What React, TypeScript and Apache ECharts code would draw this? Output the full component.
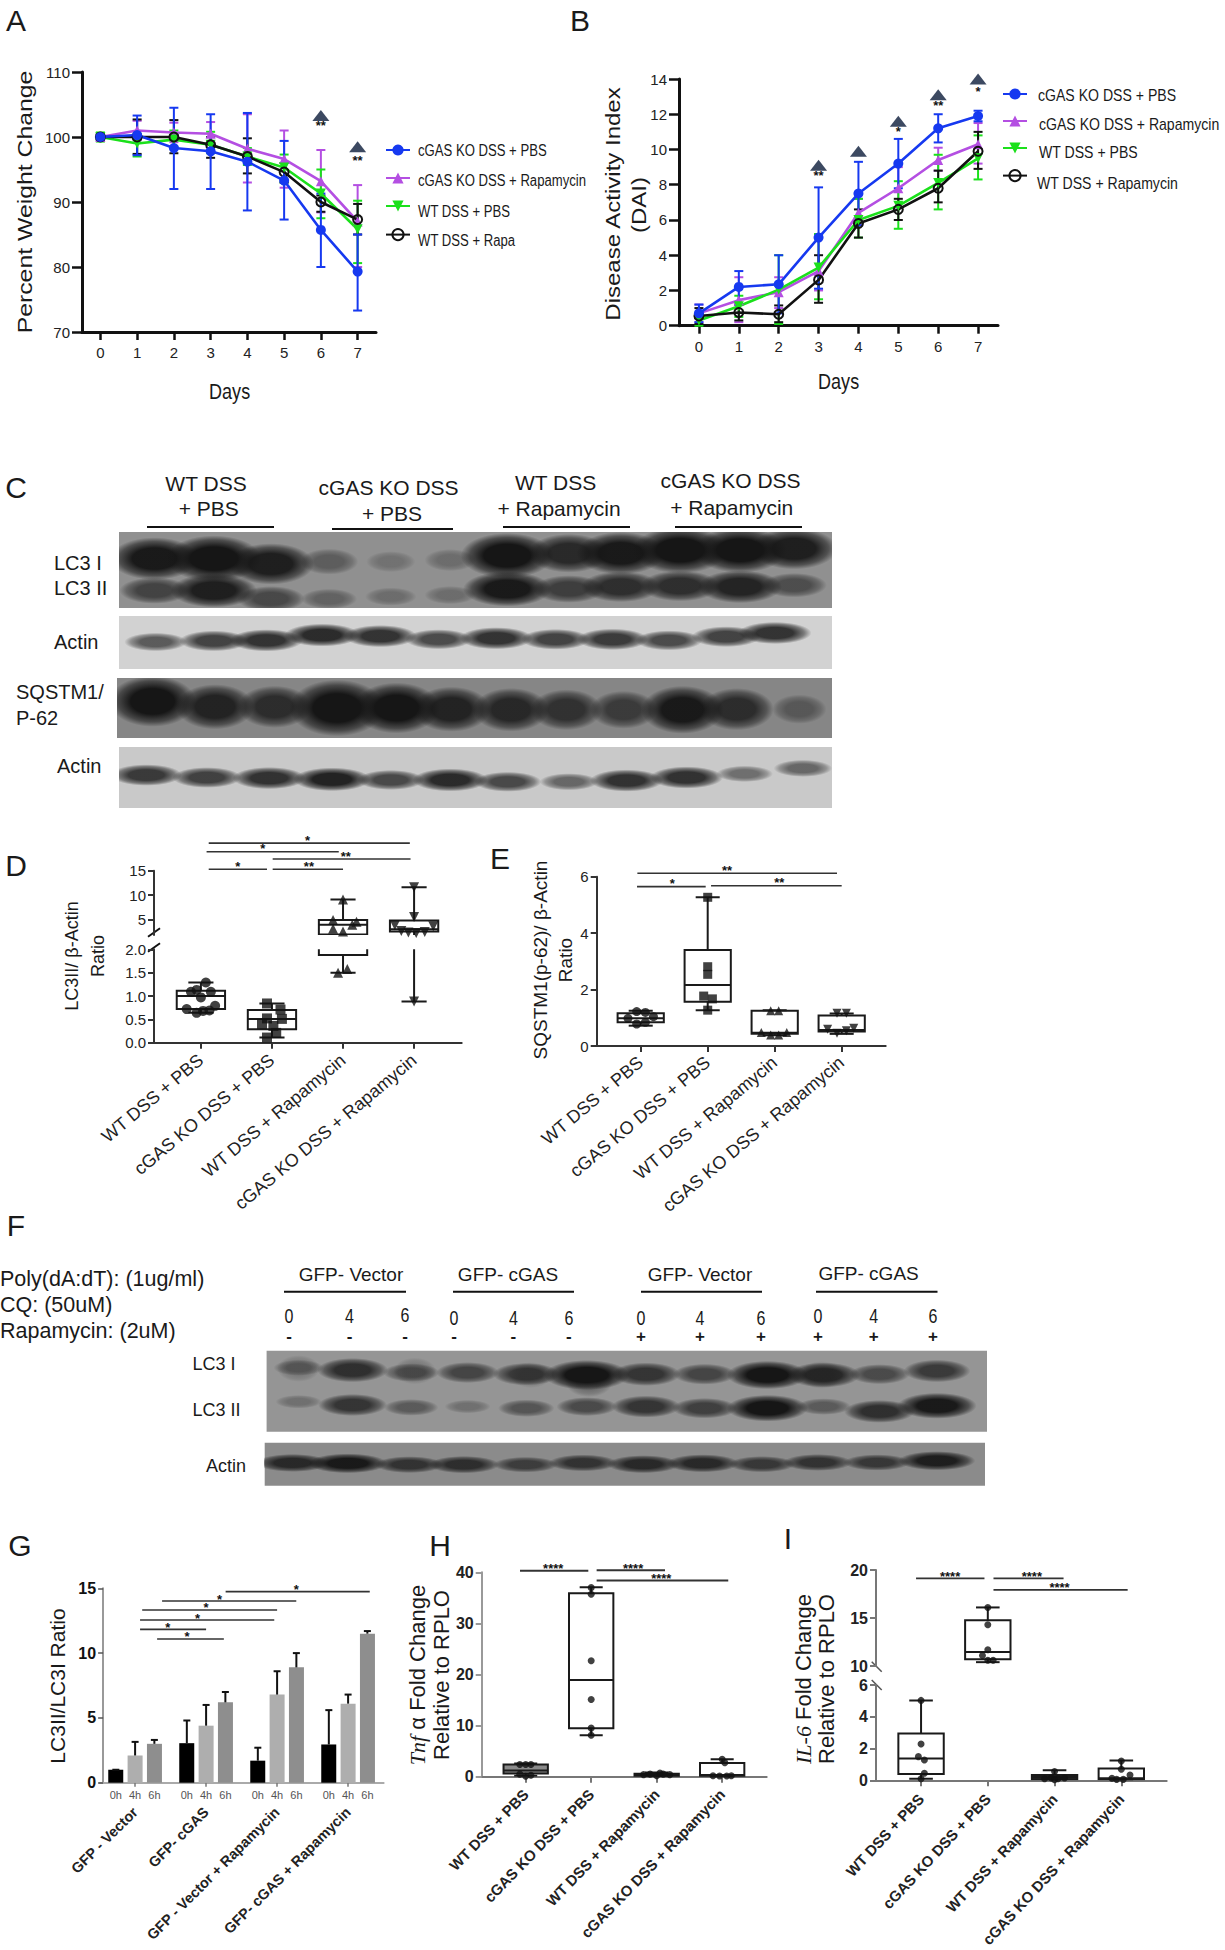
import React, { useEffect, useRef } from "react";
import * as echarts from "echarts";

const SANS = '"Liberation Sans", Arial, sans-serif';

const days = ["0", "1", "2", "3", "4", "5", "6", "7"];
const groupsBox = ["WT DSS + PBS", "cGAS KO DSS + PBS", "WT DSS + Rapamycin", "cGAS KO DSS + Rapamycin"];
const groupsBar = ["GFP - Vector", "GFP- cGAS", "GFP - Vector + Rapamycin", "GFP- cGAS + Rapamycin"];

// Panel A
const aKoPbsMean = [100, 100.3, 98.3, 97.8, 96.2, 93.3, 85.7, 79.3];
const aKoPbsHigh = [100.5, 103.3, 104.5, 103.5, 103.7, 99.4, 91.3, 85];
const aKoPbsLow = [99.5, 97.2, 92, 92, 88.7, 87.3, 80, 73.3];
const aKoRapaMean = [100, 101, 100.7, 100.5, 98.2, 96.6, 93.2, 87];
const aKoRapaHigh = [100.4, 102.5, 102.2, 102.3, 103.5, 101, 98, 92.6];
const aKoRapaLow = [99.6, 99.5, 99.2, 99, 93, 92.2, 88.4, 80];
const aWtPbsMean = [100, 99, 99.6, 98.8, 97, 95.3, 91.3, 85.8];
const aWtPbsHigh = [100.7, 100.5, 101, 100.8, 98.3, 97.3, 95, 90.2];
const aWtPbsLow = [99.3, 97, 98.5, 97.5, 95.7, 93, 87.5, 80.6];
const aWtRapaMean = [100, 100, 100, 98.8, 97, 94.6, 90, 87.3];
const aWtRapaHigh = [100.4, 102.7, 102.6, 100, 99.8, 96, 91, 89.7];
const aWtRapaLow = [99.6, 97.4, 97.5, 96.8, 94.4, 93, 88.5, 85];
const aTriangleDays = [6, 7];
const aTriangleValues = [103.3, 98.5];
const aStarValues = [101.8, 96.4];
const aStarLabels = ["**", "**"];

// Panel B
const bKoPbsMean = [0.7, 2.2, 2.35, 5, 7.5, 9.2, 11.2, 11.9];
const bKoPbsHigh = [1.2, 3.1, 4, 7.85, 9.3, 10.6, 12, 12.2];
const bKoPbsLow = [0.2, 1.2, 0.7, 2.1, 5.7, 7.8, 10.4, 11.6];
const bKoRapaMean = [0.7, 1.45, 1.9, 3.1, 6.4, 7.8, 9.4, 10.3];
const bKoRapaHigh = [1.2, 2.75, 2.75, 5.2, 7.2, 9, 10.1, 11.5];
const bKoRapaLow = [0.2, 0.2, 1, 2, 5.7, 6.7, 8.8, 9.2];
const bWtPbsMean = [0.3, 1.1, 2.05, 3.3, 6, 6.8, 8.1, 9.5];
const bWtPbsHigh = [0.6, 1.7, 4, 5.2, 7.2, 8.2, 9.7, 10.8];
const bWtPbsLow = [0, 0.5, 0.1, 1.5, 5, 5.5, 6.6, 8.3];
const bWtRapaMean = [0.55, 0.75, 0.65, 2.6, 5.8, 6.6, 7.8, 9.9];
const bWtRapaHigh = [1, 1.2, 1.15, 4, 6.6, 7.2, 8.8, 11];
const bWtRapaLow = [0.1, 0.3, 0.2, 1.3, 5, 6, 7, 8.9];
const bTriangleDays = [3, 4, 5, 6, 7];
const bTriangleValues = [9.1, 9.9, 11.6, 13.1, 14];
const bStarDays = [3, 5, 6, 7];
const bStarValues = [8.5, 11, 12.5, 13.3];
const bStarLabels = ["**", "*", "**", "*"];

// Panel D: [min, q1, median, q3, max]
const dBoxes = [[0.64, 0.72, 1.0, 1.11, 1.29], [0.11, 0.29, 0.51, 0.7, 0.84], [1.5, 1.88, 3.9, 4.9, 9.1], [0.88, 2.5, 3, 4.8, 11.6]];
const dPoints = [
  [[0.07, 1.29], [-0.14, 1.09], [-0.06, 1.13], [0.14, 1.09], [0, 0.97], [0.2, 0.79], [-0.2, 0.72], [-0.06, 0.64], [0.03, 0.68], [0.12, 0.69]],
  [[-0.07, 0.84], [0.12, 0.71], [0.14, 0.51], [-0.07, 0.52], [-0.14, 0.4], [0.02, 0.36], [0.06, 0.21], [-0.07, 0.11]],
  [[0, 9.1], [-0.14, 4.9], [0.19, 4.5], [0.13, 3.9], [-0.14, 3.1], [0, 2.5], [0.06, 1.58], [-0.07, 1.5]],
  [[0, 11.6], [0, 5.5], [-0.27, 3.8], [0.27, 3.6], [-0.18, 2.6], [-0.08, 2.3], [0.03, 2.2], [0.15, 2.4], [0, 0.88]],
];
const dSig = [[0.11, 2.94, 20.67, 1.5], [0.08, 1.94, 18.9, 0.87], [1.01, 2.95, 17.4, 2.04], [0.11, 0.93, 15.3, 0.52], [1.01, 2.0, 15.3, 1.52]];
const dSigLabels = ["*", "*", "**", "*", "**"];

// Panel E
const eBoxes = [[0.72, 0.84, 0.98, 1.16, 1.25], [1.27, 1.57, 2.16, 3.4, 5.27], [0.38, 0.43, 0.47, 1.25, 1.27], [0.43, 0.51, 0.57, 1.08, 1.15]];
const ePoints = [
  [[-0.06, 1.22], [0.07, 1.19], [-0.19, 0.98], [0.19, 1.04], [-0.06, 0.78], [0.07, 0.84]],
  [[0, 5.27], [0, 2.81], [0, 2.54], [-0.06, 1.77], [0.07, 1.67], [0, 1.27]],
  [[-0.06, 1.25], [0.06, 1.25], [-0.2, 0.48], [0.18, 0.48], [-0.06, 0.39], [0.06, 0.39]],
  [[-0.07, 1.16], [0.07, 1.16], [-0.21, 0.59], [0.18, 0.63], [-0.07, 0.45], [0.07, 0.54]],
];
const eSig = [[-0.05, 2.93, 6.12, 1.29], [-0.055, 0.97, 5.65, 0.47], [1.05, 3.0, 5.68, 2.07]];
const eSigLabels = ["**", "*", "**"];

// Panel G
const gTimes = ["0h", "4h", "6h"];
const g0h = [1.0, 3.05, 1.7, 2.95];
const g4h = [2.1, 4.4, 6.8, 6.1];
const g6h = [3.0, 6.2, 8.9, 11.5];
const g0hErr = [1.0, 4.8, 2.7, 5.6];
const g4hErr = [3.15, 6.0, 8.6, 6.8];
const g6hErr = [3.3, 7.0, 10.0, 11.7];
const gSig = [[1.275, 3.305, 14.74, 2.27], [0.38, 2.27, 14.02, 1.19], [0.1, 2.0, 13.33, 1.0], [0.07, 1.96, 12.55, 0.88], [0.07, 1.0, 11.83, 0.46], [0.31, 1.25, 11.09, 0.73]];
const gSigLabels = ["*", "*", "*", "*", "*", "*"];

// Panel H
const hBoxes = [[0.2, 0.65, 1.2, 2.4, 2.6], [8.1, 9.5, 18.9, 35.9, 37.05], [0.0, 0.15, 0.4, 0.6, 0.8], [0.1, 0.15, 0.35, 2.7, 3.4]];
const hPoints = [
  [[-0.09, 2.4], [0, 2.4], [0.08, 2.4], [-0.09, 0.5], [0, 0.1], [0.08, 0.3]],
  [[0, 37], [0, 35.7], [0, 22.7], [0, 15.1], [0, 9.5], [0, 8.1]],
  [[-0.2, 0.4], [-0.1, 0.5], [0, 0.2], [0.1, 0.5], [0.2, 0.4], [0.05, 0.7]],
  [[0, 3.4], [0.04, 2.75], [-0.14, 0.2], [-0.04, 0.15], [0.07, 0.15], [0.14, 0.2]],
];
const hSig = [[-0.087, 0.956, 40.3, 0.42], [1.083, 2.127, 40.4, 1.64], [1.083, 3.093, 38.4, 2.07]];
const hSigLabels = ["****", "****", "****"];

// Panel I
const iBoxes = [[0.1, 0.4, 1.38, 2.95, 5.03], [10.4, 10.7, 11.45, 14.77, 16.1], [0, 0.06, 0.2, 0.33, 0.63], [0, 0.06, 0.13, 0.75, 1.24]];
const iPoints = [
  [[0, 5.03], [0, 2.28], [-0.04, 1.49], [0.05, 1.28], [0.05, 0.44], [0, 0.1]],
  [[0, 16.1], [0, 14.3], [0, 11.7], [-0.08, 11.1], [0, 10.6], [0.08, 10.6]],
  [[0, 0.55], [-0.15, 0.1], [-0.05, 0.15], [0.05, 0.1], [0.15, 0.15], [0, 0.03]],
  [[0, 1.22], [0, 0.7], [0.13, 0.33], [-0.14, 0.13], [-0.07, 0.06], [0.03, 0.06]],
];
const iSig = [[-0.075, 0.95, 19.13, 0.435], [1.085, 2.135, 19.13, 1.66], [1.085, 3.095, 17.94, 2.075]];
const iSigLabels = ["****", "****", "****"];

// Blot C: relative band strength of each lane, lane centre and migration (% of blot height)
const cLc3Lanes = [0.01, 1.03, 2.01, 3.01, 4.07, 5.09, 6.07, 7.13, 8.02, 9.04, 10.07, 11.0];
const cLc3iPos = [35, 35, 42, 39, 39, 37, 31, 28, 28, 24, 24, 22];
const cLc3iInt = [1, 1.15, 0.95, 0.35, 0.15, 0.2, 1.1, 0.85, 1, 1.15, 1.1, 0.95];
const cLc3iiPos = [77, 77, 88, 88, 85, 83, 75, 75, 72, 71, 72, 70];
const cLc3iiInt = [0.6, 0.95, 0.55, 0.3, 0.2, 0.2, 1, 0.65, 0.8, 0.8, 0.9, 0.5];
const cAct1Lanes = [0.03, 1.03, 1.93, 2.89, 3.89, 4.89, 5.88, 6.9, 7.88, 8.85, 9.83, 10.67];
const cAct1Pos = [49, 47, 46, 36, 38, 44, 42, 44, 44, 46, 39, 32];
const cAct1Int = [0.6, 0.75, 0.85, 0.9, 0.85, 0.7, 0.85, 0.75, 0.8, 0.7, 0.75, 0.85];
const cP62Lanes = [0.01, 1.08, 2.1, 3.17, 4.19, 5.13, 6.15, 7.1, 8.08, 9.09, 10.02, 11.09];
const cP62Pos = [39, 48, 48, 50, 50, 52, 53, 53, 53, 53, 52, 52];
const cP62Int = [1.1, 0.9, 0.8, 1.3, 1.1, 0.9, 0.85, 0.75, 0.65, 1.0, 0.8, 0.35];
const cAct2Lanes = [-0.13, 0.91, 1.98, 3.06, 4.07, 5.09, 6.08, 7.13, 8.12, 9.15, 10.15, 11.15];
const cAct2Pos = [46, 50, 51, 53, 54, 54, 57, 57, 55, 50, 44, 35];
const cAct2Int = [0.8, 0.75, 0.85, 0.95, 0.7, 0.9, 0.7, 0.5, 0.85, 0.85, 0.45, 0.5];

// Blot F
const fLc3Lanes = [0, 0.93, 1.94, 2.91, 3.92, 4.96, 5.98, 6.99, 8.07, 9.04, 10.0, 10.99];
const fLc3iPos = [21, 24, 27, 27, 29, 30, 29, 29, 30, 30, 29, 25];
const fLc3iInt = [0.3, 0.8, 0.45, 0.6, 0.7, 1.15, 0.75, 0.6, 1.05, 0.85, 0.55, 0.7];
const fLc3iiPos = [63, 67, 70, 69, 71, 69, 69, 71, 71, 69, 75, 68];
const fLc3iiInt = [0.2, 0.75, 0.4, 0.2, 0.45, 0.55, 0.75, 0.65, 1.05, 0.4, 0.8, 1.0];
const fSmearLanes = [0, 2, 4, 5, 9];
const fSmearPos = [22, 25, 30, 38, 30];
const fSmearInt = [0.12, 0.12, 0.1, 0.25, 0.15];
const fActLanes = [-0.07, 0.88, 1.94, 2.88, 3.94, 4.93, 5.97, 6.99, 8.01, 8.97, 9.99, 11.02];
const fActPos = [47, 48, 51, 51, 51, 47, 50, 48, 50, 46, 46, 42];
const fActInt = [0.85, 1, 0.75, 0.8, 0.65, 0.75, 0.85, 0.85, 0.7, 0.75, 0.7, 0.95];
const fTimes = ["0", "4", "6", "0", "4", "6", "0", "4", "6", "0", "4", "6"];
const fSigns = ["-", "-", "-", "-", "-", "-", "+", "+", "+", "+", "+", "+"];

function buildOption() {
  const grid: any[] = [], xAxis: any[] = [], yAxis: any[] = [], series: any[] = [], gfx: any[] = [];

  const addGrid = (left, top, width, height, x, y, bg?) => {
    const i = grid.length;
    grid.push({ left, top, width, height, show: !!bg, backgroundColor: bg || "transparent", borderWidth: 0, containLabel: false });
    xAxis.push({ gridIndex: i, ...x });
    yAxis.push({ gridIndex: i, ...y });
    return i;
  };

  const T = (text, x, y, o: any = {}) =>
    gfx.push({
      type: "text", x, y, rotation: o.rot || 0, scaleX: o.sx || 1, scaleY: o.sy || 1, silent: true,
      style: {
        text, fontSize: o.size || 16, fontFamily: o.font || SANS, fontWeight: o.weight || "normal",
        fill: o.fill || "#1a1a1a", align: o.align || "center", verticalAlign: "middle", rich: o.rich,
      },
    });
  const L = (x1, y1, x2, y2, w = 2, c = "#111") =>
    gfx.push({ type: "line", silent: true, shape: { x1, y1, x2, y2 }, style: { stroke: c, lineWidth: w } });

  const sigSeries = (g, rows, labels, o: any = {}) =>
    series.push({
      type: "custom", xAxisIndex: g, yAxisIndex: g, silent: true, z: 5,
      data: rows.map((r) => [0, r[2]]),
      renderItem: (p, api) => {
        const r = rows[p.dataIndex];
        const zero = api.coord([0, r[2]]);
        const unit = api.size([1, 0])[0];
        const children: any[] = [];
        if (r[0] !== r[1])
          children.push({ type: "line", shape: { x1: zero[0] + r[0] * unit, y1: zero[1], x2: zero[0] + r[1] * unit, y2: zero[1] }, style: { stroke: o.color || "#333", lineWidth: o.width || 1.6 } });
        children.push({
          type: "text",
          style: { text: labels[p.dataIndex], x: zero[0] + r[3] * unit, y: zero[1] + (o.dy ?? -3), align: "center", verticalAlign: "middle", fontSize: o.size || 13, fontWeight: "bold", fontFamily: SANS, fill: "#111" },
        });
        return { type: "group", children };
      },
    });

  const linePanel = (left, top, w, h, yCfg, defs) => {
    const g = addGrid(left, top, w, h,
      {
        type: "category", data: days, boundaryGap: true,
        axisLine: { show: true, onZero: false, lineStyle: { color: "#111", width: 3 } },
        axisTick: { show: true, alignWithLabel: true, length: 8, lineStyle: { color: "#111", width: 2.5 } },
        axisLabel: { color: "#222", fontSize: 15, fontFamily: SANS, margin: 13 },
        splitLine: { show: false },
      },
      {
        type: "value", ...yCfg,
        axisLine: { show: true, onZero: false, lineStyle: { color: "#111", width: 3 } },
        axisTick: { show: true, length: 10, lineStyle: { color: "#111", width: 2.5 } },
        axisLabel: { color: "#222", fontSize: 15, fontFamily: SANS, margin: 12 },
        splitLine: { show: false },
      });
    defs.forEach((d) => {
      series.push({
        type: "custom", xAxisIndex: g, yAxisIndex: g, silent: true, z: 2,
        data: d.mean.map((m, i) => [i, m]),
        renderItem: (p, api) => {
          const i = p.dataIndex;
          const a = api.coord([i, d.high[i]]), b = api.coord([i, d.low[i]]);
          const st = { stroke: d.color, lineWidth: 2 };
          return {
            type: "group",
            children: [
              { type: "line", shape: { x1: a[0], y1: a[1], x2: b[0], y2: b[1] }, style: st },
              { type: "line", shape: { x1: a[0] - 4.5, y1: a[1], x2: a[0] + 4.5, y2: a[1] }, style: st },
              { type: "line", shape: { x1: b[0] - 4.5, y1: b[1], x2: b[0] + 4.5, y2: b[1] }, style: st },
            ],
          };
        },
      });
    });
    defs.forEach((d) => {
      const open = d.symbol === "open";
      series.push({
        type: "line", name: d.name, xAxisIndex: g, yAxisIndex: g, data: d.mean, z: 3,
        symbol: open ? "circle" : d.symbol, symbolRotate: d.rotate || 0, symbolSize: open ? 9 : 10, showSymbol: true,
        lineStyle: { color: d.color, width: 2.6 },
        itemStyle: { color: open ? "transparent" : d.color, borderColor: d.color, borderWidth: open ? 2 : 0 },
      });
    });
    return g;
  };

  const colors = { ko: "#1639f0", rapa: "#b44fe2", wt: "#1be01b", blk: "#111111" };
  const mk = (name, color, symbol, rotate, mean, low, high) => ({ name, color, symbol, rotate, mean, low, high });

  const gA = linePanel(82, 72, 294, 260, { min: 70, max: 110, interval: 10 }, [
    mk("cGAS KO DSS + Rapamycin", colors.rapa, "triangle", 0, aKoRapaMean, aKoRapaLow, aKoRapaHigh),
    mk("WT DSS + PBS", colors.wt, "triangle", 180, aWtPbsMean, aWtPbsLow, aWtPbsHigh),
    mk("WT DSS + Rapa", colors.blk, "open", 0, aWtRapaMean, aWtRapaLow, aWtRapaHigh),
    mk("cGAS KO DSS + PBS", colors.ko, "circle", 0, aKoPbsMean, aKoPbsLow, aKoPbsHigh),
  ]);
  const gB = linePanel(679, 79, 319, 246.7, { min: 0, max: 14, interval: 2 }, [
    mk("cGAS KO DSS + Rapamycin", colors.rapa, "triangle", 0, bKoRapaMean, bKoRapaLow, bKoRapaHigh),
    mk("WT DSS + PBS", colors.wt, "triangle", 180, bWtPbsMean, bWtPbsLow, bWtPbsHigh),
    mk("WT DSS + Rapamycin", colors.blk, "open", 0, bWtRapaMean, bWtRapaLow, bWtRapaHigh),
    mk("cGAS KO DSS + PBS", colors.ko, "circle", 0, bKoPbsMean, bKoPbsLow, bKoPbsHigh),
  ]);
  const tri = (g, ds, vs) =>
    series.push({
      type: "scatter", xAxisIndex: g, yAxisIndex: g, symbol: "triangle", symbolSize: [17, 11], clip: false, silent: true, z: 6,
      itemStyle: { color: "#0b1c3a" }, data: ds.map((d, i) => [days[d], vs[i]]),
    });
  tri(gA, aTriangleDays, aTriangleValues);
  tri(gB, bTriangleDays, bTriangleValues);
  sigSeries(gA, aTriangleDays.map((d, i) => [d, d, aStarValues[i], d]), aStarLabels, { dy: 0 });
  sigSeries(gB, bStarDays.map((d, i) => [d, d, bStarValues[i], d]), bStarLabels, { dy: 0 });

  // box panels
  const catX = (min, max, cfg: any = {}) => ({
    type: "value", min, max,
    axisLine: { show: true, onZero: false, lineStyle: { color: cfg.line || "#333", width: 2 } },
    axisTick: { show: true, length: 6, customValues: [0, 1, 2, 3], lineStyle: { color: cfg.line || "#333", width: 2 } },
    axisLabel: {
      customValues: [0, 1, 2, 3], formatter: (v) => groupsBox[Math.round(v)], rotate: cfg.rotate || 40, margin: cfg.margin || 15,
      fontSize: cfg.size || 18, fontWeight: cfg.weight || "normal", fontFamily: SANS, color: "#222",
    },
    splitLine: { show: false },
  });
  const catY = (cfg: any) => ({
    type: "value", min: cfg.min, max: cfg.max, interval: cfg.interval,
    axisLine: { show: true, onZero: false, lineStyle: { color: cfg.line || "#333", width: 2 } },
    axisTick: { show: true, length: 6, customValues: cfg.values, lineStyle: { color: cfg.line || "#333", width: 2 } },
    axisLabel: {
      customValues: cfg.values, formatter: cfg.fmt, margin: 8, fontSize: cfg.size || 15, fontWeight: cfg.weight || "normal", fontFamily: SANS, color: "#222",
    },
    splitLine: { show: false },
  });
  const hideX = (min, max) => ({ type: "value", show: false, min, max, axisLine: { onZero: false }, splitLine: { show: false } });

  const addBoxes = (g, boxes, boxW, fills: any[] = [], lw = 2) =>
    series.push({
      type: "custom", xAxisIndex: g, yAxisIndex: g, clip: true, silent: true, z: 2,
      data: boxes.map((b, i) => [i, b[2]]),
      renderItem: (p, api) => {
        const i = p.dataIndex, b = boxes[i];
        const half = api.size([boxW, 0])[0] / 2, cap = half * 0.52;
        const c = (v) => api.coord([i, v]);
        const [x, yMin] = c(b[0]), yQ1 = c(b[1])[1], yMed = c(b[2])[1], yQ3 = c(b[3])[1], yMax = c(b[4])[1];
        const st = { stroke: "#1a1a1a", lineWidth: lw };
        const ln = (x1, y1, x2, y2) => ({ type: "line", shape: { x1, y1, x2, y2 }, style: st });
        return {
          type: "group",
          children: [
            ln(x, yMax, x, yQ3), ln(x, yQ1, x, yMin), ln(x - cap, yMax, x + cap, yMax), ln(x - cap, yMin, x + cap, yMin),
            { type: "rect", shape: { x: x - half, y: yQ3, width: half * 2, height: yQ1 - yQ3 }, style: { fill: fills[i] || "transparent", stroke: "#1a1a1a", lineWidth: lw } },
            ln(x - half, yMed, x + half, yMed),
          ],
        };
      },
    });
  const addPoints = (g, pts, syms, size) =>
    pts.forEach((arr, i) => {
      const s = syms[i];
      series.push({
        type: "scatter", xAxisIndex: g, yAxisIndex: g, clip: true, silent: true, z: 3,
        symbol: s === "inv" ? "triangle" : s, symbolRotate: s === "inv" ? 180 : 0, symbolSize: size,
        itemStyle: { color: "#111" }, data: arr.map(([o, v]) => [i + o, v]),
      });
    });
  const symsBox = ["circle", "rect", "triangle", "inv"];

  // D
  const dMin = -0.66, dMax = 3.67;
  const gD1 = addGrid(154, 870.7, 307.7, 64.3, hideX(dMin, dMax), catY({ min: 1.8, max: 15, values: [5, 10, 15] }));
  const gD0 = addGrid(154, 949.3, 307.7, 93.4, catX(dMin, dMax), catY({ min: 0, max: 2, interval: 0.5, values: [0, 0.5, 1, 1.5, 2], fmt: (v) => v.toFixed(1) }));
  [gD1, gD0].forEach((g) => { addBoxes(g, dBoxes, 0.68); addPoints(g, dPoints, symsBox, 10); });
  sigSeries(gD1, dSig, dSigLabels);
  L(148, 936.7, 160, 928.3, 2); L(148, 951.7, 160, 943.3, 2);

  // E
  const gE = addGrid(596.7, 876.7, 289, 169.3, catX(-0.657, 3.657, { margin: 14 }), catY({ min: 0, max: 6, interval: 2, values: [0, 2, 4, 6] }));
  addBoxes(gE, eBoxes, 0.69); addPoints(gE, ePoints, symsBox, 9); sigSeries(gE, eSig, eSigLabels);

  // G
  const gG = addGrid(99.6, 1588.3, 284, 194.4,
    {
      type: "category", data: groupsBar,
      axisLine: { show: true, onZero: false, lineStyle: { color: "#aaa", width: 2 } },
      axisTick: { show: true, alignWithLabel: true, length: 4, lineStyle: { color: "#777", width: 1.5 } },
      axisLabel: { rotate: 45, margin: 27, fontSize: 14.5, fontWeight: "bold", fontFamily: SANS, color: "#222", interval: 0 },
    },
    {
      type: "value", min: 0, max: 15, interval: 5, offset: -3.5,
      axisLine: { show: true, onZero: false, lineStyle: { color: "#999", width: 2 } },
      axisTick: { show: true, length: 5, lineStyle: { color: "#555", width: 1.5 } },
      axisLabel: { fontSize: 16, fontWeight: "bold", fontFamily: SANS, color: "#111", margin: 7 },
      splitLine: { show: false },
    });
  const gVals = [g0h, g4h, g6h], gErrs = [g0hErr, g4hErr, g6hErr], gCols = ["#000000", "#aeaeae", "#8e8e8e"];
  gVals.forEach((vals, k) => {
    series.push({
      type: "bar", name: gTimes[k], xAxisIndex: gG, yAxisIndex: gG, data: vals, barWidth: 15, barGap: "29%", silent: true, z: 2,
      itemStyle: { color: gCols[k] },
      label: { show: true, position: "bottom", formatter: "{a}", distance: 7, fontSize: 11, color: "#555", fontFamily: SANS },
    });
  });
  gErrs.forEach((errs, k) => {
    series.push({
      type: "custom", xAxisIndex: gG, yAxisIndex: gG, silent: true, z: 3,
      data: errs.map((e, i) => [i, e]),
      renderItem: (p, api) => {
        const i = p.dataIndex;
        const off = (k - 1) * api.size([1, 0])[0] * 0.2714;
        const a = api.coord([i, errs[i]]), b = api.coord([i, gVals[k][i]]);
        const x = a[0] + off, st = { stroke: "#111", lineWidth: 2 };
        return {
          type: "group",
          children: [
            { type: "line", shape: { x1: x, y1: a[1], x2: x, y2: b[1] }, style: st },
            { type: "line", shape: { x1: x - 3.5, y1: a[1], x2: x + 3.5, y2: a[1] }, style: st },
          ],
        };
      },
    });
  });
  sigSeries(gG, gSig, gSigLabels, { dy: -2 });

  // H
  const gH = addGrid(481.7, 1572.3, 285, 204.4, catX(-0.672, 3.68, { rotate: 46, size: 15, weight: "bold", line: "#777", margin: 15 }),
    catY({ min: 0, max: 40, interval: 10, values: [0, 10, 20, 30, 40], size: 16, weight: "bold", line: "#999" }));
  addBoxes(gH, hBoxes, 0.677, ["#8a8a8a", null, "#333333", null]); addPoints(gH, hPoints, ["circle", "circle", "circle", "circle"], 7);
  sigSeries(gH, hSig, hSigLabels, { dy: -2, width: 1.8 });

  // I
  const iMin = -0.675, iMax = 3.68;
  const gI1 = addGrid(876, 1570, 290.7, 96, hideX(iMin, iMax),
    catY({ min: 10, max: 20, interval: 5, values: [10, 15, 20], size: 16, weight: "bold", line: "#777" }));
  const gI0 = addGrid(876, 1685, 290.7, 95.3, catX(iMin, iMax, { rotate: 47, size: 15, weight: "bold", line: "#777", margin: 16 }),
    catY({ min: 0, max: 6, interval: 2, values: [0, 2, 4, 6], size: 16, weight: "bold", line: "#777" }));
  [gI1, gI0].forEach((g) => { addBoxes(g, iBoxes, 0.68, [null, null, "#333333", null]); addPoints(g, iPoints, ["circle", "circle", "circle", "circle"], 7); });
  sigSeries(gI1, iSig, iSigLabels, { dy: -2, width: 1.8 });
  L(871.7, 1661.7, 881.7, 1671.7, 1.5, "#555"); L(871.7, 1680, 881.7, 1690, 1.5, "#555");

  // blots
  const addBlot = (left, top, width, height, bg, lo, hi, rows) => {
    const g = addGrid(left, top, width, height,
      { type: "value", show: false, min: lo, max: hi, splitLine: { show: false } },
      { type: "value", show: false, min: 0, max: 100, inverse: true, splitLine: { show: false } }, bg);
    const bands: any[] = [];
    rows.forEach((r) => r.lanes.forEach((lane, i) => bands.push({ lane, pos: r.pos[i], str: r.str[i], w: r.w, h: r.h })));
    series.push({
      type: "custom", xAxisIndex: g, yAxisIndex: g, clip: true, silent: true, z: 2,
      data: bands.map((b) => [b.lane, b.pos]),
      renderItem: (p, api) => {
        const b = bands[p.dataIndex];
        const c = api.coord([b.lane, b.pos]);
        const rx = api.size([b.w * (0.5 + 0.55 * Math.min(b.str, 1.3)), 0])[0] / 2;
        const ry = api.size([0, b.h * (0.4 + 0.6 * b.str)])[1] / 2;
        const a = Math.min(1, 0.12 + 0.85 * b.str);
        const col = (o) => `rgba(22,22,22,${o})`;
        return {
          type: "ellipse", shape: { cx: c[0], cy: c[1], rx, ry },
          style: {
            fill: {
              type: "radial", x: 0.5, y: 0.5, r: 0.5, global: false,
              colorStops: [{ offset: 0, color: col(a) }, { offset: 0.5, color: col(a) }, { offset: 0.8, color: col(a * 0.55) }, { offset: 1, color: col(0) }],
            },
          },
        };
      },
    });
  };
  const cLo = -0.6, cHi = 11.65;
  addBlot(119, 532, 713, 76, "#909090", cLo, cHi, [
    { lanes: cLc3Lanes, pos: cLc3iPos, str: cLc3iInt, w: 1.45, h: 56 },
    { lanes: cLc3Lanes, pos: cLc3iiPos, str: cLc3iiInt, w: 1.45, h: 46 },
  ]);
  addBlot(119, 616, 713, 53, "#d2d2d2", cLo, cHi, [{ lanes: cAct1Lanes, pos: cAct1Pos, str: cAct1Int, w: 1.3, h: 46 }]);
  addBlot(117, 678, 715, 60, "#868686", cLo, cHi, [{ lanes: cP62Lanes, pos: cP62Pos, str: cP62Int, w: 1.35, h: 80 }]);
  addBlot(119, 747, 713, 61, "#c9c9c9", cLo, cHi, [{ lanes: cAct2Lanes, pos: cAct2Pos, str: cAct2Int, w: 1.3, h: 40 }]);
  addBlot(266.6, 1350.7, 720.4, 81, "#959595", -0.55, 11.85, [
    { lanes: fSmearLanes, pos: fSmearPos, str: fSmearInt, w: 1.3, h: 70 },
    { lanes: fLc3Lanes, pos: fLc3iPos, str: fLc3iInt, w: 1.3, h: 34 },
    { lanes: fLc3Lanes, pos: fLc3iiPos, str: fLc3iiInt, w: 1.3, h: 32 },
  ]);
  addBlot(264.7, 1442.7, 720.3, 43, "#8b8b8b", -0.55, 11.85, [{ lanes: fActLanes, pos: fActPos, str: fActInt, w: 1.3, h: 46 }]);

  // panel letters
  const letter = (t, x, y) => T(t, x, y, { size: 30 });
  letter("A", 16, 20); letter("B", 580, 20); letter("C", 16, 487); letter("D", 16, 865);
  letter("E", 500, 858); letter("F", 16, 1225); letter("G", 20, 1545); letter("H", 440, 1545); letter("I", 788, 1538);

  // A / B titles and legend names
  T("Percent Weight Change", 25, 202, { size: 20, rot: Math.PI / 2, sx: 1.24 });
  T("Days", 229.6, 391, { size: 22, sx: 0.82 });
  T("Disease Activity Index", 613, 204, { size: 20, rot: Math.PI / 2, sx: 1.2 });
  T("(DAI)", 639, 205, { size: 20, rot: Math.PI / 2, sx: 1.2 });
  T("Days", 838.6, 381, { size: 22, sx: 0.82 });
  const legA = { size: 16, sx: 0.82, align: "left" };
  T("cGAS KO DSS + PBS", 418, 151, legA); T("cGAS KO DSS + Rapamycin", 418, 181, legA);
  T("WT DSS + PBS", 418, 212, legA); T("WT DSS + Rapa", 418, 241, legA);
  const legB = { size: 16, sx: 0.88, align: "left" };
  T("cGAS KO DSS + PBS", 1038, 95, legB); T("cGAS KO DSS + Rapamycin", 1039, 124, legB);
  T("WT DSS + PBS", 1039, 152, legB); T("WT DSS + Rapamycin", 1037, 183, legB);

  // C labels
  const cOpt = { size: 21, font: SANS };
  T("WT DSS", 206, 483, cOpt); T("+ PBS", 208.7, 508, cOpt);
  T("cGAS KO DSS", 388.6, 487, cOpt); T("+ PBS", 392, 513, cOpt);
  T("WT DSS", 555.6, 482, cOpt); T("+ Rapamycin", 559, 508, cOpt);
  T("cGAS KO DSS", 730.6, 480, cOpt); T("+ Rapamycin", 731.7, 507, cOpt);
  L(147, 527, 274, 527); L(332, 529, 453, 529); L(503, 527, 630, 527); L(675, 527, 802, 527);
  const cL = { size: 20, align: "left" };
  T("LC3 I", 54, 563, cL); T("LC3 II", 54, 588, cL); T("Actin", 54, 642, cL);
  T("SQSTM1/", 16, 692, cL); T("P-62", 16, 718, cL); T("Actin", 57, 766, cL);

  // D/E titles
  T("LC3II/ β-Actin", 72, 956, { size: 18, rot: Math.PI / 2 });
  T("Ratio", 98, 956, { size: 18, rot: Math.PI / 2 });
  T("SQSTM1(p-62)/ β-Actin", 540.7, 960, { size: 19, rot: Math.PI / 2 });
  T("Ratio", 565.7, 960, { size: 19, rot: Math.PI / 2 });

  // F labels
  const fL = { size: 21.5, align: "left" };
  T("Poly(dA:dT): (1ug/ml)", 0, 1279, fL); T("CQ: (50uM)", 0, 1305, fL); T("Rapamycin: (2uM)", 0, 1331, fL);
  const fH = { size: 19 };
  T("GFP- Vector", 351, 1274, fH); T("GFP- cGAS", 508, 1274, fH); T("GFP- Vector", 700, 1274, fH); T("GFP- cGAS", 868.6, 1273, fH);
  L(284, 1291.7, 406, 1291.7); L(453, 1291.7, 574, 1291.7); L(641, 1291.7, 762, 1291.7); L(816, 1291.7, 937.5, 1291.7);
  const numX = [289, 349.5, 405, 454, 513.4, 568.9, 641, 700, 761, 818, 873.7, 933];
  const numY = [1316, 1316, 1315, 1318, 1318, 1318, 1318, 1318, 1318, 1316, 1316, 1316];
  fTimes.forEach((t, i) => {
    T(t, numX[i], numY[i], { size: 20, sx: 0.8 });
    T(fSigns[i], numX[i], 1336, { size: 17, weight: "bold" });
  });
  const fB = { size: 18, align: "left" };
  T("LC3 I", 192.6, 1364, fB); T("LC3 II", 192.6, 1410, fB); T("Actin", 206, 1466, fB);

  // G/H/I titles
  T("LC3II/LC3I Ratio", 57, 1686, { size: 21, rot: Math.PI / 2 });
  T("{i|Tnf} α Fold Change", 417, 1675, {
    size: 22, rot: Math.PI / 2,
    rich: { i: { fontStyle: "italic", fontFamily: '"Liberation Serif", serif', fontSize: 22, fill: "#1a1a1a" } },
  });
  T("Relative to RPLO", 441.7, 1675, { size: 22, rot: Math.PI / 2 });
  T("{i|IL-6} Fold Change", 803, 1679, {
    size: 22, rot: Math.PI / 2,
    rich: { i: { fontStyle: "italic", fontFamily: '"Liberation Serif", serif', fontSize: 22, fill: "#1a1a1a" } },
  });
  T("Relative to RPLO", 826.7, 1679, { size: 22, rot: Math.PI / 2 });

  const legendBase = { orient: "vertical", itemWidth: 24, itemHeight: 14, padding: 0, selectedMode: false, formatter: () => " ", textStyle: { fontSize: 12 } };
  const legend = [
    { ...legendBase, left: 385, top: 144, itemGap: 16, data: ["cGAS KO DSS + PBS", "cGAS KO DSS + Rapamycin", "WT DSS + PBS", "WT DSS + Rapa"] },
    { ...legendBase, left: 1002, top: 88, itemGap: 15, data: ["cGAS KO DSS + PBS", "cGAS KO DSS + Rapamycin", "WT DSS + PBS", "WT DSS + Rapamycin"] },
  ];

  return { animation: false, backgroundColor: "#ffffff", tooltip: { show: false }, grid, xAxis, yAxis, series, legend, graphic: { elements: gfx } };
}

export default function App() {
  const ref = useRef<HTMLDivElement>(null);
  useEffect(() => {
    document.body.style.margin = "0";
    const chart = echarts.init(ref.current!, null, { renderer: "svg" });
    chart.setOption(buildOption() as any);
    return () => chart.dispose();
  }, []);
  return <div ref={ref} style={{ width: 1225, height: 1950, display: "block" }} />;
}
